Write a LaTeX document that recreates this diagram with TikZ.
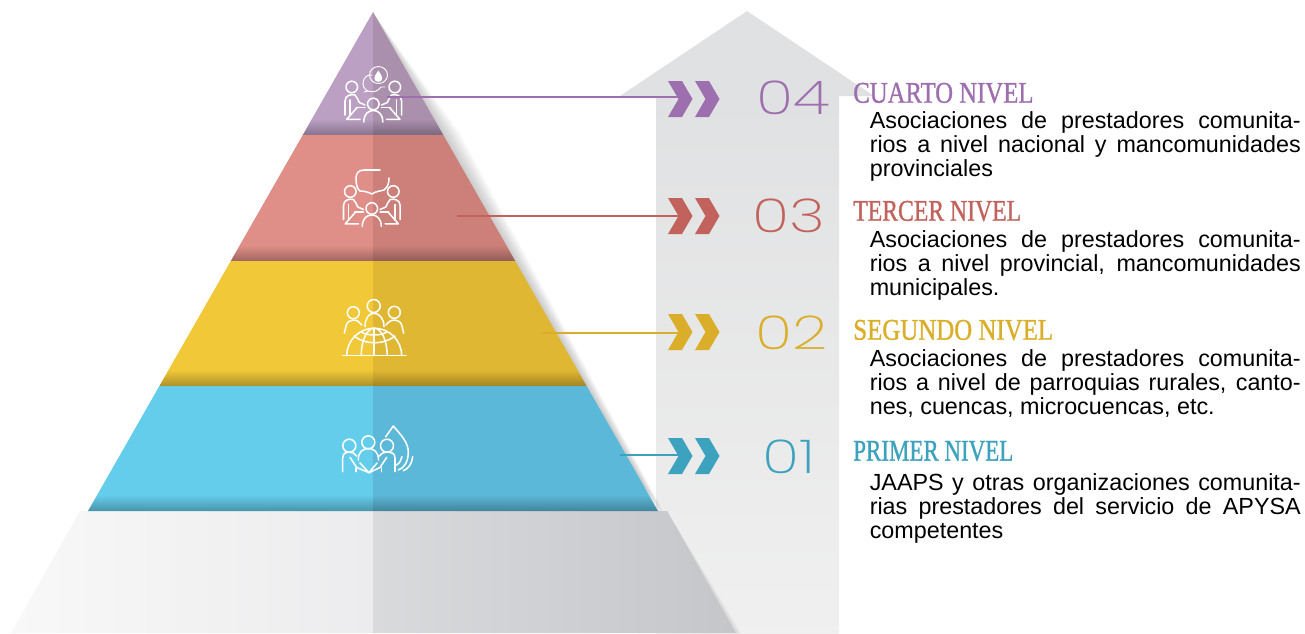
\documentclass[tikz,border=0pt]{standalone}
\usepackage{fontspec}
\setmainfont{Liberation Sans}
\newfontfamily\headfont[FakeBold=1.2]{Liberation Serif}
\newfontfamily\numfont{Poppins ExtraLight}
\usetikzlibrary{calc}
\definecolor{purpleL}{HTML}{BBA0C4}
\definecolor{purpleR}{HTML}{AB90AD}
\definecolor{redL}{HTML}{DF8F87}
\definecolor{redR}{HTML}{CC8079}
\definecolor{yellowL}{HTML}{F0C838}
\definecolor{yellowR}{HTML}{DFB733}
\definecolor{blueL}{HTML}{65CDEC}
\definecolor{blueR}{HTML}{5CB8D8}
\definecolor{purpleT}{HTML}{9E6FAE}
\definecolor{redT}{HTML}{C2625C}
\definecolor{yellowT}{HTML}{DBAE29}
\definecolor{blueT}{HTML}{3DA2BD}
\definecolor{arrowgray}{HTML}{E0E1E2}
\definecolor{baseA}{HTML}{F8F8F8}
\definecolor{baseB}{HTML}{ECECEE}
\definecolor{baseC}{HTML}{D9DADC}
\definecolor{baseD}{HTML}{C5C6CA}
\tikzset{
  iconline/.style={white,line width=1.15pt,line cap=round,line join=round},
  leveltitle/.style={anchor=west,inner sep=0pt,font=\headfont\fontsize{22.5}{22.5}\selectfont},
  levelnum/.style={inner sep=0pt,font=\numfont\fontsize{35}{35}\selectfont},
  levelbody/.style={anchor=north west,inner sep=0pt,text width=323.25pt,align=justify,
    font=\fontsize{17.5}{18}\selectfont},
  pics/meetside/.style={code={
    \draw[iconline] (-21.5,-17) circle (5.8);
    \draw[iconline] (-28.3,11) -- (-28.3,-3) .. controls (-28.3,-9) and (-22,-10) .. (-18.3,-9)
      .. controls (-16,-7) and (-15,-3) .. (-14,-1.5) -- (-8.3,1);
    \draw[iconline] (-23.3,11) -- (-23.3,-4);
    \draw[iconline] (-17,3.3) -- (-8.3,3.3);
    \draw[iconline] (-16,3.3) -- (-26.6,15.3) -- (-13.3,15.3);
  }},
  pics/meeting/.style={code={
    \pic {meetside};
    \pic[xscale=-1] {meetside};
    \draw[iconline] (0,0) circle (5.8);
    \draw[iconline] (-9.5,18) .. controls (-9.5,10) and (-5,6.5) .. (0,6.5)
      .. controls (5,6.5) and (9.5,10) .. (9.5,18);
  }},
  pics/chevron/.style={code={
    \fill (-10,-18) -- (4,-18) -- (14.5,0) -- (4,18) -- (-10,18) -- (0.5,0) -- cycle;
    \fill (17,-18) -- (31,-18) -- (41.5,0) -- (31,18) -- (17,18) -- (27.5,0) -- cycle;
  }},
}
\begin{document}
\begin{tikzpicture}[x=.75pt,y=-.75pt]
\useasboundingbox (0,0) rectangle (1305,633);
% arrow behind the pyramid
\shade[top color=arrowgray,bottom color=black!6] (656,96) rectangle (839,633);
\fill[arrowgray] (747,11) -- (874,96) -- (620,96) -- cycle;
% shadow of the pyramid
\foreach \i in {1,...,8}
  \fill[black!70,opacity=.04] (376,17) -- ({442+2.2*\i},133) -- ({659+.5*\i},511) -- (500,300) -- cycle;
\foreach \i in {1,...,4}
  \fill[black!70,opacity=.03] (667,511) -- ({737+\i},633) -- (700,633) -- cycle;
% base
\shade[left color=baseA,right color=baseB] (80,511) -- (373,511) -- (373,633) -- (11,633) -- cycle;
\shade[left color=baseC,right color=baseD] (373,511) -- (667,511) -- (736,633) -- (373,633) -- cycle;
% bands
\foreach \ytop/\ybot/\cola/\colb in {12/135/purpleL/purpleR,135/261/redL/redR,261/386/yellowL/yellowR,386/511/blueL/blueR}{
  \pgfmathsetmacro{\xta}{373-.5712*(\ytop-12)}
  \pgfmathsetmacro{\xtb}{373+.5712*(\ytop-12)}
  \pgfmathsetmacro{\xma}{373-.5712*(\ybot-28)}
  \pgfmathsetmacro{\xmb}{373+.5712*(\ybot-28)}
  \pgfmathsetmacro{\xba}{373-.5712*(\ybot-12)}
  \pgfmathsetmacro{\xbb}{373+.5712*(\ybot-12)}
  \pgfmathsetmacro{\ymid}{\ybot-16}
  \fill[\cola] (\xta,\ytop) -- (373,\ytop) -- (373,\ymid) -- (\xma,\ymid) -- cycle;
  \fill[\colb] (373,\ytop) -- (\xtb,\ytop) -- (\xmb,\ymid) -- (373,\ymid) -- cycle;
  \shade[top color=\cola,bottom color=\cola!72!black] (\xma,\ymid) -- (373,\ymid) -- (373,\ybot) -- (\xba,\ybot) -- cycle;
  \shade[top color=\colb,bottom color=\colb!72!black] (373,\ymid) -- (\xmb,\ymid) -- (\xbb,\ybot) -- (373,\ybot) -- cycle;
}
% icons
\pic at (373.3,104) {meeting};
\pic at (371.8,208.5) {meeting};
% bubbles of level 4
\fill[white] (378.3,70.5) .. controls (376,74) and (374.3,76) .. (374.3,78.3)
  .. controls (374.3,83) and (382.3,83) .. (382.3,78.3)
  .. controls (382.3,76) and (380.6,74) .. cycle;
\draw[iconline,line width=.7pt] (378.5,75) ellipse (9 and 8.5);
\draw[iconline,line width=.7pt] (372,75) .. controls (362,74) and (360,88) .. (368,91) -- (364,92);
\draw[iconline,line width=.7pt] (368,91) .. controls (374,93) and (378,91) .. (381,87) -- (385,87);
% speech bubble of level 3
\draw[iconline] (380,170) -- (364,170) .. controls (358,170) and (356,174) .. (356,178)
  .. controls (356,184) and (357,189) .. (360,191) .. controls (364,191) and (368,192) .. (372,194)
  .. controls (376,191) and (381,191) .. (384,190) .. controls (388,187) and (389,183) .. (389,178);
% people and globe of level 2
\draw[iconline] (353.3,312.7) circle (6);
\draw[iconline] (373.7,306) circle (6.5);
\draw[iconline] (394.3,312.3) circle (6);
\draw[iconline] (344.3,333.3) -- (346,326) .. controls (347,322) and (350,320) .. (353,320)
  .. controls (357,320) and (360,322) .. (361.7,325);
\draw[iconline] (403.7,333.3) -- (402,326) .. controls (401,322) and (398,320) .. (395,320)
  .. controls (391,320) and (388,322) .. (386,325);
\draw[iconline] (365,326.7) .. controls (365,318) and (369,313.3) .. (373.7,313.3)
  .. controls (379,313.3) and (384,318) .. (384,326.7);
\draw[iconline] (342.7,355.7) -- (406,355.7);
\draw[iconline] (346.7,355.7) arc (180:360:27.5);
\draw[iconline] (361.2,355.7) arc (180:360:13 and 27.5);
\draw[iconline] (374.2,328.2) -- (374.2,355.7);
\draw[iconline] (354,336) .. controls (365,345) and (384,345) .. (395,336);
\draw[iconline] (361,332) .. controls (368,336) and (380,336) .. (387,332);
% people and drop of level 1
\draw[iconline] (349.3,445.7) circle (6.5);
\draw[iconline] (368.3,442.3) circle (6.5);
\draw[iconline] (387,445.7) circle (6.5);
\draw[iconline] (342.7,471.7) -- (342.7,458) .. controls (343,453) and (346,452) .. (349,452)
  .. controls (352,452) and (355,453) .. (356.5,456);
\draw[iconline] (356,471.7) -- (356,468);
\draw[iconline] (395,471.7) -- (395,458) .. controls (395,453) and (391,452) .. (388,452)
  .. controls (385,452) and (381,453) .. (379.5,456);
\draw[iconline] (381.5,471.7) -- (381.5,468);
\draw[iconline] (350,457.3) -- (356.7,467.5) -- (369,472.7) -- (380,467.5) -- (386.7,457.3);
\draw[iconline] (358.3,460) .. controls (358,452) and (363,448.5) .. (368.3,448.5)
  .. controls (374,448.5) and (378.5,452) .. (378.5,460);
\draw[iconline] (360,463) -- (369,472.7) -- (377,463);
\draw[iconline] (385.7,436.7) -- (393.3,426) .. controls (400,434) and (408.3,442) .. (408.3,452)
  .. controls (408.3,462) and (404,468) .. (398.3,470);
\draw[iconline] (412.7,456.7) .. controls (412,464) and (408,469) .. (403.3,470.7);
\draw[iconline] (402,456.7) .. controls (401,460) and (400,463) .. (396.5,465);
% leader lines and chevrons
\foreach \n/\col/\xs/\yl/\yc in {four/purpleT/387/97/99,three/redT/457/216/216,two/yellowT/541/333/332,one/blueT/620/455/456}{
  \coordinate (lead\n) at (\xs,\yl);
  \coordinate (chev\n) at (678,\yl);
  \draw[\col,line width=.9pt] (lead\n) -- (chev\n);
  \pic[\col] at (678,\yc) {chevron};
}
% numbers
\node[levelnum,text=purpleT] (numfour) at (793,98) {\scalebox{1.32}[1]{04}};
\node[levelnum,text=redT] (numthree) at (789,216) {\scalebox{1.32}[1]{03}};
\node[levelnum,text=yellowT] (numtwo) at (792,333) {\scalebox{1.32}[1]{02}};
\node[levelnum,text=blueT] (numone) at (789,457) {\scalebox{1.32}[1]{01}};
% titles
\node[leveltitle,text=purpleT] (titlefour) at (853,93) {\scalebox{.825}[1]{CUARTO NIVEL}};
\node[leveltitle,text=redT] (titlethree) at (853,211) {\scalebox{.79}[1]{TERCER NIVEL}};
\node[leveltitle,text=yellowT] (titletwo) at (853,330) {\scalebox{.83}[1]{SEGUNDO NIVEL}};
\node[leveltitle,text=blueT] (titleone) at (853,451) {\scalebox{.765}[1]{PRIMER NIVEL}};
% body text
\node[levelbody] (bodyfour) at (869.5,111) {Asociaciones de prestadores comunita-\linebreak rios a nivel nacional y  mancomunidades\linebreak provinciales};
\node[levelbody] (bodythree) at (869.5,230) {Asociaciones de prestadores comunita-\linebreak rios a nivel provincial, mancomunidades\linebreak municipales.};
\node[levelbody] (bodytwo) at (869.5,349) {Asociaciones de prestadores comunita-\linebreak rios a nivel de parroquias rurales, canto-\linebreak nes, cuencas, microcuencas, etc.};
\node[levelbody] (bodyone) at (869.5,473) {JAAPS y otras organizaciones comunita-\linebreak rias prestadores del servicio de APYSA\linebreak competentes};
\end{tikzpicture}
\end{document}
